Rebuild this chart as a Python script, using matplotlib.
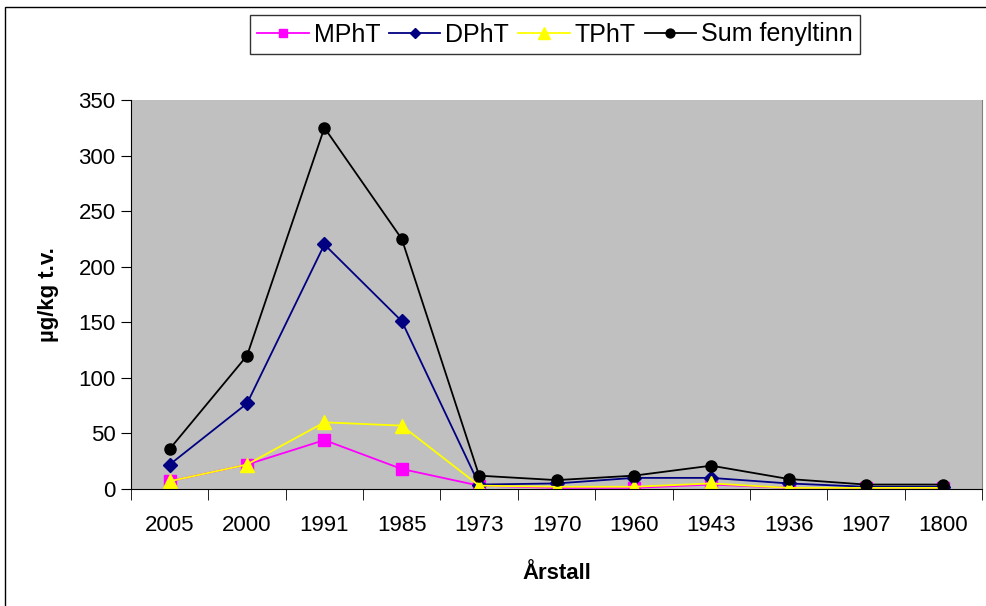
import matplotlib
matplotlib.use("Agg")
import matplotlib.pyplot as plt
from matplotlib.patches import Rectangle
import numpy as np

plt.rcParams['font.family'] = ['Liberation Sans', 'DejaVu Sans']

years = ["2005", "2000", "1991", "1985", "1973", "1970", "1960", "1943", "1936", "1907", "1800"]
mpht = [7, 22, 44, 18, 3, 1, 1, 4, 1, 1, 1]
dpht = [22, 77, 220, 151, 4, 5, 10, 10, 5, 2, 2]
tpht = [7, 22, 60, 57, 3, 2, 2, 5, 1, 1, 1]
sum_fenyltinn = [36, 120, 325, 225, 12, 8, 12, 21, 9, 4, 4]

fig = plt.figure(figsize=(9.86, 6.06), dpi=100)
ax = fig.add_axes([131/986, 1-489/606, (982-131)/986, (489-100)/606])
ax.set_facecolor("#c0c0c0")

# ramme rundt hele figuren
fig.patches.append(Rectangle((5/986, -0.01), 1.0, 1-7/606+0.01, transform=fig.transFigure,
                             fill=False, edgecolor="black", linewidth=1))

x = np.arange(len(years))
ax.plot(x, mpht, color="#ff00ff", marker="s", markersize=8, lw=1.3, label="MPhT")
ax.plot(x, dpht, color="#000080", marker="D", markersize=7, lw=1.3, label="DPhT")
ax.plot(x, tpht, color="#ffff00", marker="^", markersize=10, lw=1.3, label="TPhT")
ax.plot(x, sum_fenyltinn, color="black", marker="o", markersize=8, lw=1.3, label="Sum fenyltinn")

ax.set_xlim(-0.5, len(years) - 0.5)
ax.set_ylim(0, 350)
ax.set_yticks(range(0, 351, 50))
ax.set_xticks(x)
ax.set_xticklabels(years)
ax.set_xticks(np.arange(-0.5, len(years), 1), minor=True)
ax.tick_params(axis="x", which="major", length=0, labelsize=16, pad=19)
ax.tick_params(axis="x", which="minor", length=8, direction="out")
ax.tick_params(axis="y", length=7, direction="out", labelsize=16, pad=4)

ax.spines["top"].set_visible(False)
ax.spines["right"].set_color("#808080")

ax.set_xlabel("Årstall", fontsize=16, fontweight="bold", labelpad=19)
ax.set_ylabel("µg/kg t.v.", fontsize=16, fontweight="bold", labelpad=14)

leg = fig.legend(loc="center", bbox_to_anchor=(555/986, 1-34.5/606), ncol=4, fontsize=18,
                 frameon=True, fancybox=False, edgecolor="black", handlelength=2.05,
                 columnspacing=0.36, handletextpad=0.2, borderpad=0.3, borderaxespad=0,
                 markerscale=0.8)
leg.get_frame().set_linewidth(1)

fig.savefig("out.png", dpi=100)
